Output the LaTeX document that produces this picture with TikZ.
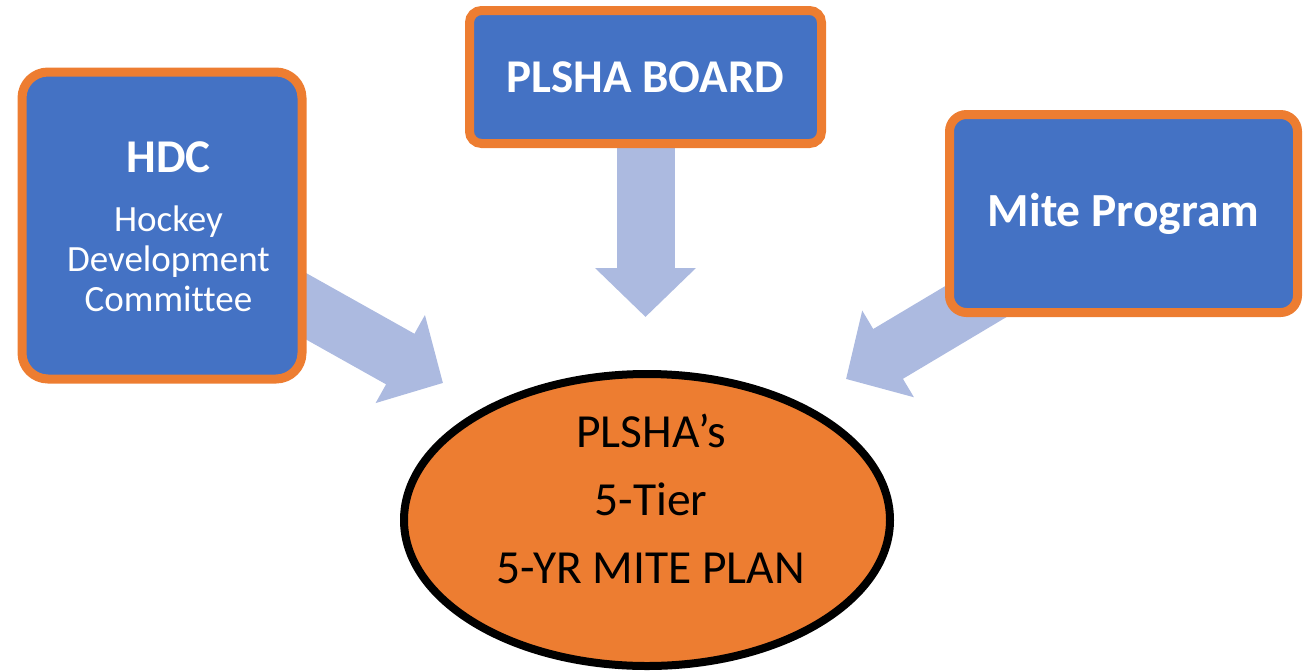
\documentclass[tikz,border=0pt]{standalone}
\usepackage{fontspec}
\setmainfont{Carlito}[Ligatures=NoCommon]
\usetikzlibrary{arrows.meta,backgrounds,shapes.geometric}
\definecolor{boxblue}{HTML}{4472C4}
\definecolor{boxorange}{HTML}{ED7D31}
\definecolor{arrowblue}{HTML}{ACBAE0}
\begin{document}
\begin{tikzpicture}
        [x=1pt,y=-1pt,
         box/.style={draw=boxorange,fill=boxblue,line width=9pt,text=white,align=center},
         fat/.style={arrowblue,line width=58pt,-{Triangle[width=98pt,length=49pt]}}]
        \useasboundingbox (0,0) rectangle (1307,670);

        \node[box,rounded corners=26pt,minimum width=280pt,minimum height=307pt] (hdc) at (162,225.5) {};
        \node[text=white,align=center,font=\fontsize{37}{40}\selectfont] (hdctext)
          at ([xshift=6.5pt,yshift=-1pt]hdc.center)
          {{\fontsize{47}{50}\bfseries HDC}\\[19pt]
           Hockey\\ Development\\ Committee};
        \node[box,rounded corners=12pt,minimum width=352pt,minimum height=133pt,
          font=\fontsize{47}{50}\bfseries] (board) at (645.5,77) {PLSHA BOARD};
        \node[box,rounded corners=17pt,minimum width=348pt,minimum height=198pt,
          font=\fontsize{47.5}{50}\bfseries] (mite) at (1123.5,213.5) {Mite Program};

        \node[draw=black,fill=boxorange,ellipse,line width=8pt,minimum width=486pt,
          minimum height=292pt] (plan) at (647,520) {};
        \node[align=center,font=\fontsize{47.5}{68}\selectfont] (plantext)
          at ([xshift=4pt,yshift=21pt]plan.center) {PLSHA’s\\ 5-Tier\\ 5-YR MITE PLAN};

        \coordinate (tipl) at (443,383);
        \coordinate (tipt) at (645.5,317);
        \coordinate (tipr) at (846,379);

        \begin{scope}[on background layer]
          \draw[fat] (hdc.center) -- (tipl);
          \draw[fat] (board.center) -- (tipt);
          \draw[fat] (mite.center) -- (tipr);
        \end{scope}
      \end{tikzpicture}
\end{document}
